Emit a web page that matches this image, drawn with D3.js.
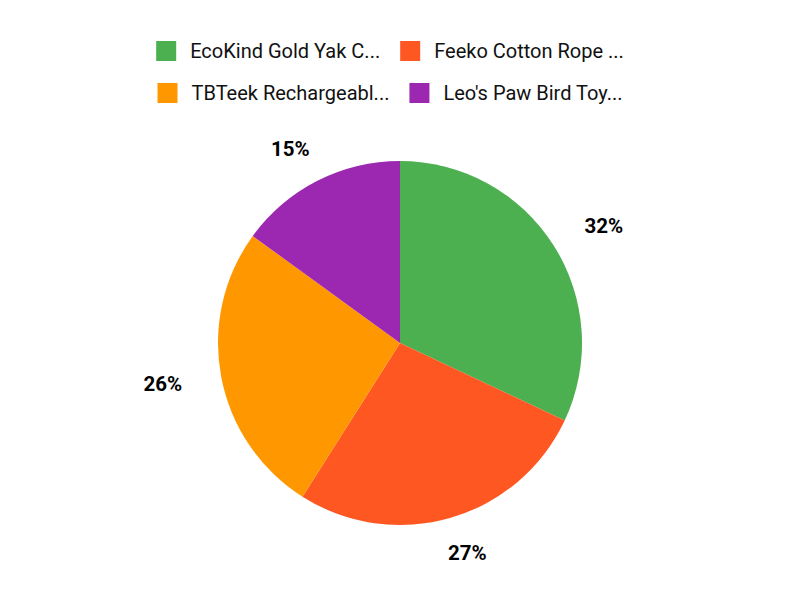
<!DOCTYPE html>
<html>
<head>
<meta charset="utf-8">
<script src="https://cdn.jsdelivr.net/npm/d3@7"></script>
<style>
  html, body { margin: 0; padding: 0; background: #ffffff; }
  svg { display: block; font-family: Roboto, "Noto Sans", sans-serif; }
</style>
</head>
<body>
<svg id="chart" width="800" height="600"></svg>
<script>
const categories = ["EcoKind Gold Yak C...", "Feeko Cotton Rope ...", "TBTeek Rechargeabl...", "Leo's Paw Bird Toy..."];
const values = [32, 27, 26, 15];
const colors = ["#4CAF50", "#FF5722", "#FF9800", "#9C27B0"];

const svg = d3.select("#chart");
const W = 800, cx = 400, cy = 343, radius = 182;

// Legend: two rows of two items, centered
const legendFont = 20, sw = 20, gap = 14, pad = 20;
const rows = [[0, 1], [2, 3]];
const rowY = [51, 93];
const legend = svg.append("g");
rows.forEach((row, ri) => {
  const items = row.map(i => {
    const g = legend.append("g");
    g.append("rect").attr("width", sw).attr("height", sw).attr("y", -sw / 2).attr("fill", colors[i]);
    const t = g.append("text").attr("x", sw + gap).attr("y", 0).attr("dy", "0.355em")
      .attr("font-size", legendFont).attr("fill", "#111111").text(categories[i]);
    const w = sw + gap + t.node().getComputedTextLength() + pad;
    return { g, w };
  });
  const total = d3.sum(items, d => d.w);
  let x = (W - total) / 2;
  items.forEach(it => { it.g.attr("transform", `translate(${x},${rowY[ri]})`); x += it.w; });
});

// Pie
const pie = d3.pie().sort(null).value(d => d)(values);
const arc = d3.arc().innerRadius(0).outerRadius(radius);
const g = svg.append("g").attr("transform", `translate(${cx},${cy})`);
g.selectAll("path").data(pie).enter().append("path")
  .attr("d", arc).attr("fill", (d, i) => colors[i]);

// Labels outside
const total = d3.sum(values);
const labFont = 20.5, Rx = 222, Ry = 211;
pie.forEach((d, i) => {
  const a = (d.startAngle + d.endAngle) / 2;
  const dx = Math.sin(a), dy = -Math.cos(a);
  const t = g.append("text").attr("font-size", labFont).attr("font-weight", "bold")
    .attr("fill", "#000").attr("text-anchor", "middle").attr("dy", "0.355em")
    .text(Math.round(d.value / total * 100) + "%");
  const w = t.node().getComputedTextLength();
  const h = labFont * 0.711;
  t.attr("x", dx * Rx + dx * w / 2).attr("y", dy * Ry + dy * h / 2);
});
</script>
</body>
</html>
